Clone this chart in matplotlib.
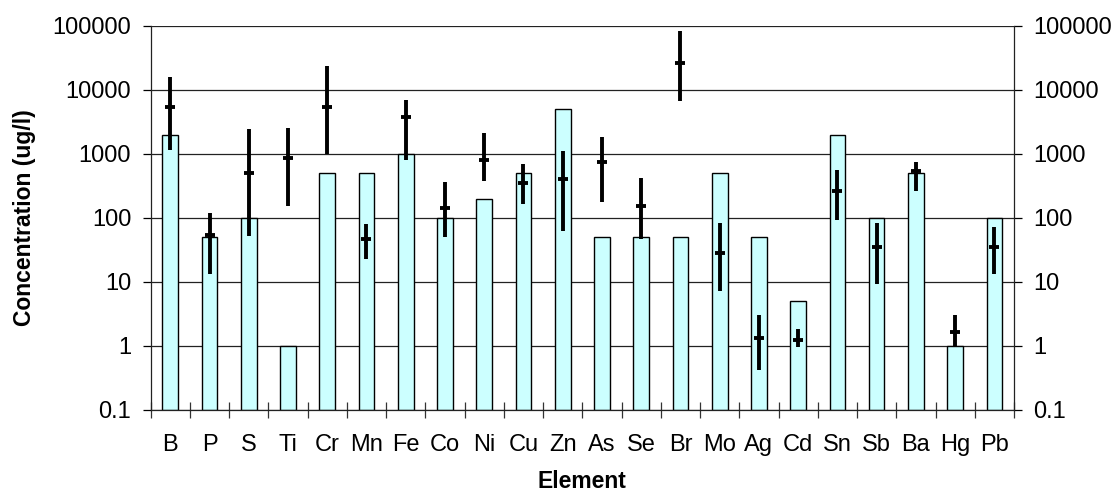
import matplotlib

matplotlib.use("Agg")
import matplotlib.pyplot as plt
import numpy as np
from matplotlib.ticker import FixedLocator, NullLocator

plt.rcParams["font.family"] = ["Liberation Sans", "DejaVu Sans"]

elements = ["B", "P", "S", "Ti", "Cr", "Mn", "Fe", "Co", "Ni", "Cu", "Zn",
            "As", "Se", "Br", "Mo", "Ag", "Cd", "Sn", "Sb", "Ba", "Hg", "Pb"]
# bar height (limit values)
limits = [2000, 50, 100, 1, 500, 500, 1000, 100, 200, 500, 5000,
          50, 50, 50, 500, 50, 5, 2000, 100, 500, 1, 100]
# measured: mean, low, high
means = [5300, 54, 500, 866, 5300, 46, 3700, 140, 806, 352, 402,
         750, 151, 25800, 28.7, 1.33, 1.24, 263, 35, 536, 1.66, 35]
lows = [1130, 13.3, 53, 151, 1000, 23, 806, 50, 374, 164, 63,
        178, 47, 6580, 7.2, 0.42, 0.95, 94, 9.3, 263, 0.95, 13.3]
highs = [15800, 121, 2430, 2570, 23700, 80, 6800, 365, 2100, 690, 1100,
         1820, 417, 81500, 84.5, 3.05, 1.86, 556, 84.5, 733, 3.05, 73]

yticks = [0.1, 1, 10, 100, 1000, 10000, 100000]
ytick_labels = ["0.1", "1", "10", "100", "1000", "10000", "100000"]

fig = plt.figure(figsize=(11.16, 5.0), dpi=100)
ax = fig.add_axes([0.135, 0.18, 0.7736, 0.7686])

x = np.arange(len(elements))
ymin = 0.1
# bars start at the bottom of the log axis
ax.bar(x, np.array(limits) - ymin, width=0.4, bottom=ymin, color="#CCFFFF",
       edgecolor="black", linewidth=1.0, zorder=2)
ax.vlines(x, lows, highs, color="black", linewidth=2.8, zorder=3)
ax.plot(x, means, linestyle="none", marker="_", markersize=7.5, mew=2.8,
        color="black", zorder=4)

ax.set_yscale("log")
ax.set_ylim(ymin, 100000)
ax.set_xlim(-0.5, len(elements) - 0.5)
ax.yaxis.set_major_locator(FixedLocator(yticks))
ax.yaxis.set_minor_locator(NullLocator())
ax.set_yticklabels(ytick_labels)
ax.yaxis.grid(True, color="#222222", linewidth=0.9, zorder=0)
ax.set_axisbelow(True)

# categories labelled at centres, tick marks between them
ax.set_xticks(x)
ax.set_xticklabels(elements)
ax.tick_params(axis="x", which="major", length=0, pad=17, labelsize=17)
ax.set_xticks(np.arange(len(elements) + 1) - 0.5, minor=True)
ax.tick_params(axis="x", which="minor", direction="inout", length=11,
               width=0.9, color="#333333")
ax.tick_params(axis="y", direction="out", length=6, width=0.9, pad=8,
               labelsize=17, right=True, labelright=True)

for side in ["left", "right", "bottom"]:
    ax.spines[side].set_linewidth(0.9)
    ax.spines[side].set_color("#222222")
ax.spines["top"].set_visible(False)

ax.set_ylabel("Concentration (ug/l)", fontsize=16.5, fontweight="bold",
              labelpad=12)
ax.set_xlabel("Element", fontsize=16.5, fontweight="bold", labelpad=10)

fig.savefig("out.png", dpi=100)
